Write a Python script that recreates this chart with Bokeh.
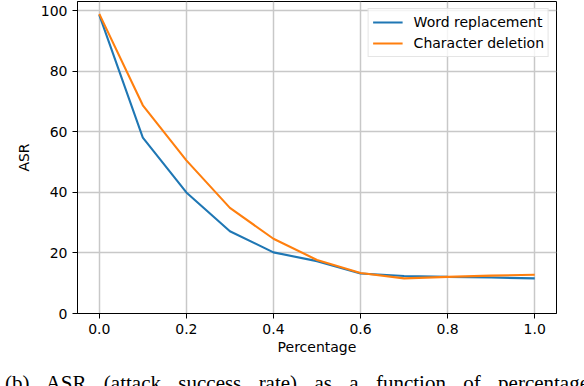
from bokeh.plotting import figure
from bokeh.models import FixedTicker, PrintfTickFormatter, Legend, LegendItem, Div, Range1d
from bokeh.layouts import column
from bokeh.embed import file_html
from bokeh.resources import INLINE

# ---- data ----
percentage = [0.0, 0.1, 0.2, 0.3, 0.4, 0.5, 0.6, 0.7, 0.8, 0.9, 1.0]
word_replacement = [98.7, 58.1, 40.0, 27.2, 20.2, 17.3, 13.2, 12.4, 12.1, 11.9, 11.6]
character_deletion = [99.0, 68.8, 50.6, 34.9, 24.7, 17.7, 13.4, 11.6, 12.1, 12.5, 12.8]
series_names = ["Word replacement", "Character deletion"]
x_ticks = [0.0, 0.2, 0.4, 0.6, 0.8, 1.0]
y_ticks = [0, 20, 40, 60, 80, 100]
x_label = "Percentage"
y_label = "ASR"
caption = "(b) ASR (attack success rate) as a function of percentage"

FONT = "DejaVu Sans"
FS = "14px"

p = figure(width=584, height=362, output_backend="svg", toolbar_location=None,
           x_range=Range1d(-0.05, 1.05), y_range=Range1d(0, 103.1),
           min_border_left=77, min_border_right=28, min_border_top=1, min_border_bottom=49)

p.outline_line_color = "black"
p.outline_line_width = 1
p.background_fill_color = "white"
p.border_fill_color = "white"

r1 = p.line(percentage, word_replacement, line_color="#1f77b4", line_width=2.1)
r2 = p.line(percentage, character_deletion, line_color="#ff7f0e", line_width=2.1)

for ax in (p.xaxis[0], p.yaxis[0]):
    ax.axis_line_color = "black"
    ax.axis_line_width = 1
    ax.major_tick_line_color = "black"
    ax.major_tick_out = 5
    ax.major_tick_in = 0
    ax.minor_tick_line_color = None
    ax.major_label_text_font = FONT
    ax.major_label_text_font_size = FS
    ax.major_label_text_color = "black"
    ax.axis_label_text_font = FONT
    ax.axis_label_text_font_size = FS
    ax.axis_label_text_font_style = "normal"
    ax.axis_label_text_color = "black"
    ax.major_label_standoff = 5

p.xaxis.ticker = FixedTicker(ticks=x_ticks)
p.xaxis.formatter = PrintfTickFormatter(format="%.1f")
p.yaxis.ticker = FixedTicker(ticks=y_ticks)
p.xaxis.axis_label = x_label
p.yaxis.axis_label = y_label
p.xaxis.axis_label_standoff = 2
p.yaxis.axis_label_standoff = 6

for g in (p.xgrid[0], p.ygrid[0]):
    g.grid_line_color = "#c8c8c8"
    g.grid_line_width = 1.5

legend = Legend(items=[LegendItem(label=series_names[0], renderers=[r1]),
                       LegendItem(label=series_names[1], renderers=[r2])],
                location="top_right")
legend.margin = 7
legend.padding = 4
legend.spacing = 3
legend.glyph_width = 30
legend.glyph_height = 18
legend.label_height = 18
legend.label_standoff = 11
legend.label_text_font = FONT
legend.label_text_font_size = FS
legend.label_text_color = "black"
legend.border_line_color = "#cccccc"
legend.border_line_width = 1
legend.background_fill_color = "white"
legend.background_fill_alpha = 0.8
p.add_layout(legend)

cap = Div(text=f'<div style="text-align: justify; text-align-last: justify; '
               f'font-family: \'Liberation Serif\', serif; font-size: 21px; line-height: 21px; '
               f'padding-top: 6px; color: black; width: 584px;">{caption}</div>',
          width=584, height=24, styles={"overflow": "hidden"})

layout = column(p, cap, spacing=0)

open("out.html", "w").write(file_html(layout, INLINE))
